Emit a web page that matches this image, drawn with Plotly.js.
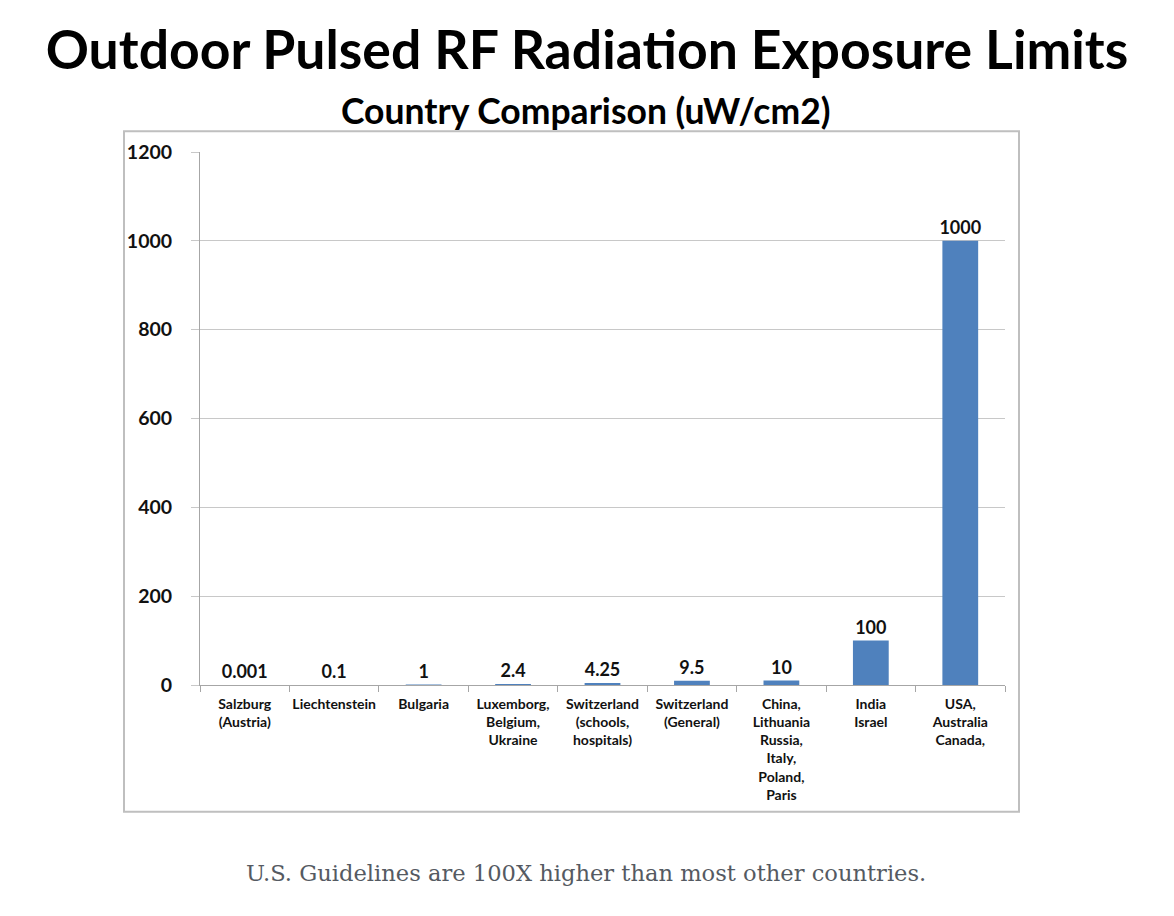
<!DOCTYPE html>
<html>
<head>
<meta charset="utf-8">
<script src="https://cdn.plot.ly/plotly-3.0.1.min.js"></script>
<style>
  body { margin: 0; background: #fff; }
  #chart { width: 1174px; height: 916px; }
</style>
</head>
<body>
<div id="chart"></div>
<script>
// limits per country group, uW/cm2
var places = [
    "Salzburg<br>(Austria)",
    "Liechtenstein",
    "Bulgaria",
    "Luxemborg,<br>Belgium,<br>Ukraine",
    "Switzerland<br>(schools,<br>hospitals)",
    "Switzerland<br>(General)",
    "China,<br>Lithuania<br>Russia,<br>Italy,<br>Poland,<br>Paris",
    "India<br>Israel",
    "USA,<br>Australia<br>Canada,"
];
var limits = [0.001, 0.1, 1, 2.4, 4.25, 9.5, 10, 100, 1000];
var limitLabels = ["0.001", "0.1", "1", "2.4", "4.25", "9.5", "10", "100", "1000"];
var yTicks = [0, 200, 400, 600, 800, 1000, 1200];

var font = "Lato, 'Open Sans', sans-serif";

var trace = {
    x: places,
    y: limits,
    type: 'bar',
    text: limitLabels,
    textposition: 'outside',
    constraintext: 'none',
    cliponaxis: false,
    textfont: {family: font, size: 18, color: '#111', weight: 'bold'},
    marker: {color: '#4f81bd'},
    width: 0.4,
    hoverinfo: 'none'
};

var layout = {
    width: 1174,
    height: 916,
    margin: {l: 200, r: 169, t: 152, b: 231},
    paper_bgcolor: '#fff',
    plot_bgcolor: '#fff',
    showlegend: false,
    font: {family: font, color: '#111'},
    title: {
        text: "<b>Outdoor Pulsed RF Radiation Exposure Limits</b>",
        font: {family: font, size: 53.5, color: '#000'},
        x: 0.5, xanchor: 'center',
        y: 0.945, yanchor: 'middle', yref: 'container'
    },
    xaxis: {
        type: 'category',
        range: [-0.5, 8.5],
        showgrid: false,
        showline: true,
        linecolor: '#a6a6a6',
        linewidth: 1,
        ticks: 'outside',
        tickson: 'boundaries',
        ticklen: 6,
        tickcolor: '#a6a6a6',
        tickangle: 0,
        ticklabelstandoff: 6,
        tickfont: {family: font, size: 14, color: '#111', weight: 'bold'},
        fixedrange: true
    },
    yaxis: {
        range: [0, 1200],
        tickvals: yTicks,
        showgrid: true,
        gridcolor: '#c8c8c8',
        gridwidth: 1,
        zeroline: false,
        showline: true,
        linecolor: '#a6a6a6',
        ticks: 'outside',
        ticklen: 8,
        tickcolor: '#c8c8c8',
        ticklabelstandoff: 15,
        tickfont: {family: font, size: 19.5, color: '#111', weight: 'bold'},
        fixedrange: true
    },
    shapes: [{
        type: 'rect',
        xref: 'paper', yref: 'paper',
        x0: -0.0944, x1: 1.0174,
        y0: -0.238, y1: 1.039,
        line: {color: '#bfbfbf', width: 2},
        fillcolor: 'rgba(0,0,0,0)',
        layer: 'below'
    }],
    annotations: [{
        text: "<b>Country Comparison (uW/cm2)</b>",
        xref: 'paper', yref: 'paper',
        x: 0.479, y: 1.078,
        xanchor: 'center', yanchor: 'middle',
        showarrow: false,
        font: {family: font, size: 35.5, color: '#000'}
    }, {
        text: "U.S. Guidelines are 100X higher than most other countries.",
        xref: 'paper', yref: 'paper',
        x: 0.48, y: -0.353,
        xanchor: 'center', yanchor: 'middle',
        showarrow: false,
        font: {family: "'DejaVu Serif', Georgia, serif", size: 22.6, color: '#555a62'}
    }]
};

Plotly.newPlot('chart', [trace], layout, {displayModeBar: false, staticPlot: true});
</script>
</body>
</html>
